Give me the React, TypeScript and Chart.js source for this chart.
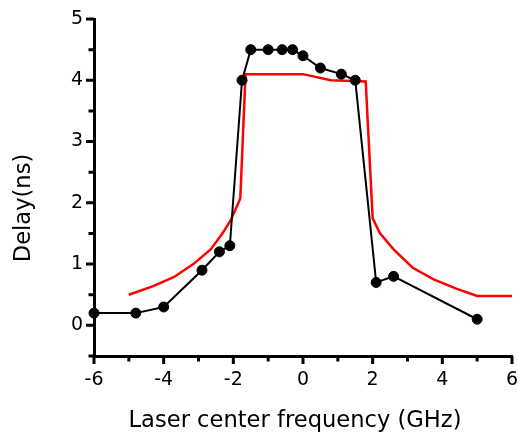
import React, { useEffect, useRef } from 'react';
import { Chart, registerables } from 'chart.js';

Chart.register(...registerables);

// Measured delay (black dots)
const measuredFreq = [-6, -4.8, -4, -2.9, -2.4, -2.1, -1.75, -1.5, -1.0, -0.6, -0.3, 0.0, 0.5, 1.1, 1.5, 2.1, 2.6, 5.0];
const measuredDelay = [0.2, 0.2, 0.3, 0.9, 1.2, 1.3, 4.0, 4.5, 4.5, 4.5, 4.5, 4.4, 4.2, 4.1, 4.0, 0.7, 0.8, 0.1];

// Theoretical delay (red line)
const theoryFreq = [-5, -4.3, -3.7, -3.15, -2.65, -2.3, -2.07, -1.8, -1.65, 0.0, 0.8, 1.8, 2.0, 2.2, 2.6, 3.15, 3.75, 4.4, 5.0, 6.0];
const theoryDelay = [0.5, 0.64, 0.79, 1.0, 1.24, 1.51, 1.72, 2.07, 4.1, 4.1, 4.0, 3.98, 1.75, 1.51, 1.24, 0.94, 0.75, 0.6, 0.48, 0.48];

const xTickLabels = [-6, -4, -2, 0, 2, 4, 6];
const yTickLabels = [0, 1, 2, 3, 4, 5];
const xMin = -6;
const xMax = 6;
const yMin = -0.5;
const yMax = 5;
const xTitle = 'Laser center frequency (GHz)';
const yTitle = 'Delay(ns)';

const FONT = '"DejaVu Sans", sans-serif';

const axisDecor = {
  id: 'axisDecor',
  afterDraw(chart: any) {
    const { ctx, chartArea, scales } = chart;
    const xs = scales.x;
    const ys = scales.y;
    ctx.save();
    ctx.strokeStyle = '#000';
    ctx.lineWidth = 3;
    ctx.lineCap = 'butt';
    ctx.beginPath();
    for (let v = xMin; v <= xMax; v += 1) {
      const px = xs.getPixelForValue(v);
      const len = xTickLabels.includes(v) ? 8 : 5.5;
      ctx.moveTo(px, chartArea.bottom);
      ctx.lineTo(px, chartArea.bottom + len);
    }
    for (let v = yMin; v <= yMax + 1e-9; v += 0.5) {
      const py = ys.getPixelForValue(v);
      const len = yTickLabels.includes(v) ? 8 : 5.5;
      ctx.moveTo(chartArea.left, py);
      ctx.lineTo(chartArea.left - len, py);
    }
    ctx.stroke();

    ctx.fillStyle = '#000';
    ctx.font = '22.6px ' + FONT;
    ctx.textAlign = 'center';
    ctx.textBaseline = 'alphabetic';
    ctx.fillText(xTitle, 295, 427);
    ctx.translate(30, 208);
    ctx.rotate(-Math.PI / 2);
    ctx.fillText(yTitle, 0, 0);
    ctx.restore();
  },
};

export default function App() {
  const canvasRef = useRef<HTMLCanvasElement | null>(null);

  useEffect(() => {
    if (!canvasRef.current) return;
    const chart = new Chart(canvasRef.current, {
      type: 'line',
      data: {
        datasets: [
          {
            label: 'Measured',
            data: measuredFreq.map((x, i) => ({ x, y: measuredDelay[i] })),
            borderColor: '#000',
            backgroundColor: '#000',
            borderWidth: 2,
            pointRadius: 5,
            pointBorderWidth: 1,
            pointBackgroundColor: '#000',
            pointBorderColor: '#000',
            tension: 0,
            clip: false as any,
          },
          {
            label: 'Theory',
            data: theoryFreq.map((x, i) => ({ x, y: theoryDelay[i] })),
            borderColor: '#ff0000',
            backgroundColor: '#ff0000',
            borderWidth: 2.5,
            pointRadius: 0,
            tension: 0,
            clip: false as any,
          },
        ],
      },
      options: {
        responsive: false,
        animation: false,
        devicePixelRatio: 1,
        layout: { padding: { top: 19, right: 6, left: 0, bottom: 0 } },
        plugins: {
          legend: { display: false },
          tooltip: { enabled: false },
        },
        scales: {
          x: {
            type: 'linear',
            min: xMin,
            max: xMax,
            grid: { display: false, drawTicks: false },
            border: { display: true, color: '#000', width: 3 },
            ticks: {
              stepSize: 1,
              autoSkip: false,
              maxRotation: 0,
              padding: 13,
              color: '#000',
              font: { size: 19, family: FONT },
              callback: (v: any) => (xTickLabels.includes(Number(v)) ? String(v) : ''),
            },
            afterFit: (s: any) => {
              s.height = 76;
              s.paddingLeft = 0;
              s.paddingRight = 0;
            },
          },
          y: {
            type: 'linear',
            min: yMin,
            max: yMax,
            grid: { display: false, drawTicks: false },
            border: { display: true, color: '#000', width: 3 },
            ticks: {
              stepSize: 0.5,
              autoSkip: false,
              padding: 11,
              color: '#000',
              font: { size: 19, family: FONT },
              callback: (v: any) => (yTickLabels.includes(Number(v)) ? String(v) : ''),
            },
            afterFit: (s: any) => {
              s.width = 94;
              s.paddingTop = 0;
              s.paddingBottom = 0;
            },
          },
        },
      },
      plugins: [axisDecor],
    });
    return () => chart.destroy();
  }, []);

  return (
    <div style={{ position: 'absolute', left: 0, top: 0, width: 518, height: 432, background: '#fff' }}>
      <canvas ref={canvasRef} width={518} height={432} style={{ display: 'block' }} />
    </div>
  );
}
